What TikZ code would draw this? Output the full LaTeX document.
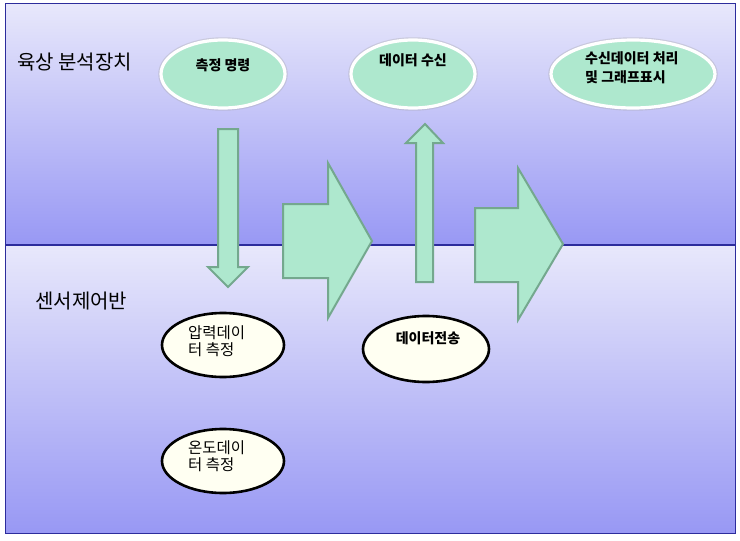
\documentclass[tikz,border=0pt]{standalone}
\usepackage{fontspec}
\newfontfamily\kr{Noto Sans CJK KR}
\usetikzlibrary{shapes.geometric}
\definecolor{paneltop}{HTML}{E8E8FB}
\definecolor{panelbot}{HTML}{9898F4}
\definecolor{panelline}{HTML}{2C2C9C}
\definecolor{mint}{HTML}{AEE8CE}
\definecolor{mintline}{HTML}{74A88E}
\definecolor{cream}{HTML}{FFFFF2}
\begin{document}
\begin{tikzpicture}[x=1pt,y=-1pt,
  panel/.style={top color=paneltop,bottom color=panelbot},
  topell/.style={ellipse,fill=mint,draw=white,line width=3.2pt,inner sep=0pt,
    preaction={draw=black!35,line width=5.5pt,opacity=0.35}},
  botell/.style={ellipse,fill=cream,draw=black,line width=2.6pt,inner sep=0pt},
  blockarrow/.style={fill=mint,draw=mintline,line width=2pt,line join=miter},
  paneltxt/.style={font=\kr\fontsize{20}{22}\selectfont,inner sep=0pt},
  topt/.style={font=\kr\bfseries\fontsize{14}{19}\selectfont,inner sep=0pt,align=left},
  bott/.style={font=\kr\fontsize{15.5}{17.5}\selectfont,inner sep=0pt,align=left}]
\useasboundingbox (0,0) rectangle (740,541);
\fill[white] (0,0) rectangle (740,541);
% panels
\shade[panel] (5,3) rectangle (735,245);
\shade[panel] (5,245) rectangle (735,533);
\draw[panelline,line width=0.8pt] (5,245) -- (5,3) -- (735,3) -- (735,245);
\draw[panelline,line width=0.8pt] (5,245) -- (5,533) -- (735,533) -- (735,245);
\draw[panelline,line width=2pt] (5,245) -- (735,245);
\node[paneltxt,anchor=west] (lblTop) at (17,62) {육상 분석장치};
\node[paneltxt,anchor=west] (lblBot) at (35,301) {센서제어반};
% block arrows
\draw[blockarrow] (218,129) -- (238,129) -- (238,267) -- (248,267) -- (228,287) -- (208,267) -- (218,267) -- cycle;
\draw[blockarrow] (416,282) -- (433,282) -- (433,143) -- (443,143) -- (425,124) -- (406,143) -- (416,143) -- cycle;
\draw[blockarrow] (283,204) -- (328,204) -- (328,163) -- (372,241) -- (328,318) -- (328,278) -- (283,278) -- cycle;
\draw[blockarrow] (475,208) -- (518,208) -- (518,168) -- (563,244) -- (518,320) -- (518,282) -- (475,282) -- cycle;
% top ellipses
\node[topell,minimum width=124pt,minimum height=68pt] (cmd) at (223,74) {};
\node[topt] (cmdT) at (223,65) {측정 명령};
\node[topell,minimum width=124pt,minimum height=68pt] (recv) at (413,74) {};
\node[topt] (recvT) at (413,60) {데이터 수신};
\node[topell,minimum width=164pt,minimum height=68pt] (proc) at (633,74) {};
\node[topt,anchor=north west] (procT) at (585,51) {수신데이터 처리\\및 그래프표시};
% bottom ellipses
\node[botell,minimum width=122pt,minimum height=64pt] (pres) at (223,345) {};
\node[bott,anchor=north west] (presT) at (188,325) {압력데이\\터 측정};
\node[botell,minimum width=122pt,minimum height=64pt] (temp) at (223,461) {};
\node[bott,anchor=north west] (tempT) at (188,440) {온도데이\\터 측정};
\node[botell,minimum width=126pt,minimum height=66pt] (send) at (426,349) {};
\node[topt] (sendT) at (428,338) {데이터전송};
\end{tikzpicture}
\end{document}
